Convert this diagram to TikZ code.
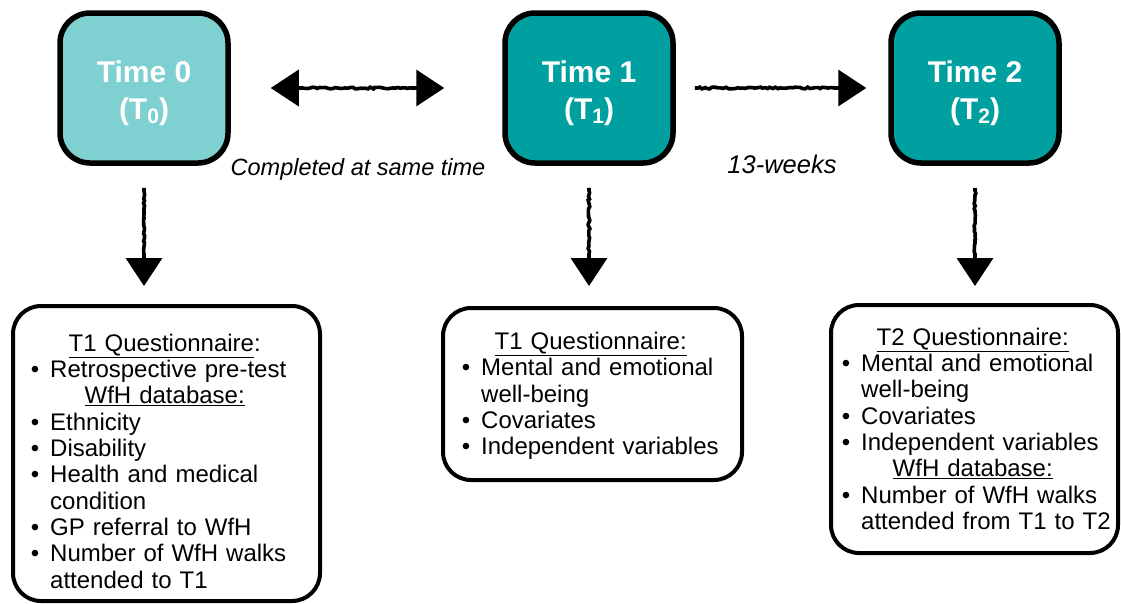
\documentclass[tikz,border=0pt]{standalone}
\usepackage{fontspec}
\setmainfont{Liberation Sans}
\usetikzlibrary{arrows.meta,decorations.pathmorphing}

\definecolor{tealLight}{HTML}{7FD0D0}
\definecolor{tealDark}{HTML}{00A0A0}

% indent of item text inside an info box
\newlength\leftin
% centred heading line inside an info box
\newcommand\boxhead[1]{{\centering #1\par}}
% bulleted line with hanging continuation
\newcommand\bitem[1]{{\leftskip=\leftin\relax\rightskip=0pt plus 1fil\relax
  \noindent\llap{\textbullet\hspace{11pt}}#1\par}}
% lowered small index in the time labels
\newcommand\tsub[1]{{\fontsize{21}{21}\selectfont\raisebox{-3.5pt}{#1}}}

\begin{document}
\begin{tikzpicture}[x=1pt,y=-1pt,
  timebox/.style={draw=black, line width=5.5pt, rounded corners=30pt,
    minimum width=168pt, minimum height=150pt, inner sep=0pt,
    text=white, align=center, font=\fontsize{30}{37}\selectfont\bfseries},
  infobox/.style={draw=black, line width=4pt, rounded corners=28pt, inner sep=0pt},
  infotext/.style={anchor=north west, inner sep=0pt,
    font=\fontsize{24}{26.35}\selectfont,
    execute at begin node={\setlength{\leftin}{#1}}},
  flow/.style={line width=3.6pt, decorate,
    decoration={random steps, segment length=2.5pt, amplitude=0.9pt,
      pre length=3pt, post length=32pt}},
  flowboth/.style={flow, decoration={pre length=32pt}},
  headtri/.tip={Triangle[length=28pt,width=36pt]},
  note/.style={anchor=base, inner sep=0pt, font=\fontsize{23.5}{28}\selectfont\itshape}
]
\useasboundingbox (0,0) rectangle (1121,603);

% time points
\node[timebox, fill=tealLight] (t0) at (144,88) {\rule{0pt}{33pt}Time 0\\(T\tsub{0})};
\node[timebox, fill=tealDark]  (t1) at (589,88) {\rule{0pt}{33pt}Time 1\\(T\tsub{1})};
\node[timebox, fill=tealDark]  (t2) at (975,88) {\rule{0pt}{33pt}Time 2\\(T\tsub{2})};

% measures collected at each time point
\node[infobox, minimum width=307pt, minimum height=295pt] (b0) at (166.5,453.5) {};
\node[infobox, minimum width=299pt, minimum height=172pt] (b1) at (592.5,394) {};
\node[infobox, minimum width=287pt, minimum height=248pt] (b2) at (974.5,429) {};

\node[infotext=39pt, text width=307pt] (q0) at ([yshift=-29.5pt]b0.north west) {%
  \boxhead{\underline{T1 Questionnaire}:}
  \bitem{Retrospective pre-test}
  \boxhead{\underline{WfH database:}}
  \bitem{Ethnicity}
  \bitem{Disability}
  \bitem{Health and medical\newline condition}
  \bitem{GP referral to WfH}
  \bitem{Number of WfH walks\newline attended to T1}};

\node[infotext=40pt, text width=299pt] (q1) at ([yshift=-26pt]b1.north west) {%
  \boxhead{\underline{T1 Questionnaire:}}
  \bitem{Mental and emotional\newline well-being}
  \bitem{Covariates}
  \bitem{Independent variables}};

\node[infotext=32pt, text width=287pt] (q2) at ([yshift=-24.5pt]b2.north west) {%
  \boxhead{\underline{T2 Questionnaire:}}
  \bitem{Mental and emotional\newline well-being}
  \bitem{Covariates}
  \bitem{Independent variables}
  \boxhead{\underline{WfH database:}}
  \bitem{Number of WfH walks\newline attended from T1 to T2}};

% timing between the time points
\draw[flowboth, {headtri}-{headtri}] ([xshift=40pt]t0.east) -- ([xshift=-58pt]t1.west);
\draw[flow, -{headtri}] ([xshift=19pt]t1.east) -- ([xshift=-22pt]t2.west);
\node[note] (same) at (358,175) {Completed at same time};
\node[note, font=\fontsize{25.5}{28}\selectfont\itshape] (weeks) at (782,173) {13-weeks};

% from each time point down to its measures
\coordinate (d0) at (t0.south |- b0.north);
\coordinate (d1) at (t1.south |- b1.north);
\coordinate (d2) at (t2.south |- b2.north);
\draw[flow, -{headtri}] ([yshift=-22pt]t0.south) -- ([yshift=18pt]d0);
\draw[flow, -{headtri}] ([yshift=-22pt]t1.south) -- ([yshift=20pt]d1);
\draw[flow, -{headtri}] ([yshift=-22pt]t2.south) -- ([yshift=17pt]d2);
\end{tikzpicture}
\end{document}
